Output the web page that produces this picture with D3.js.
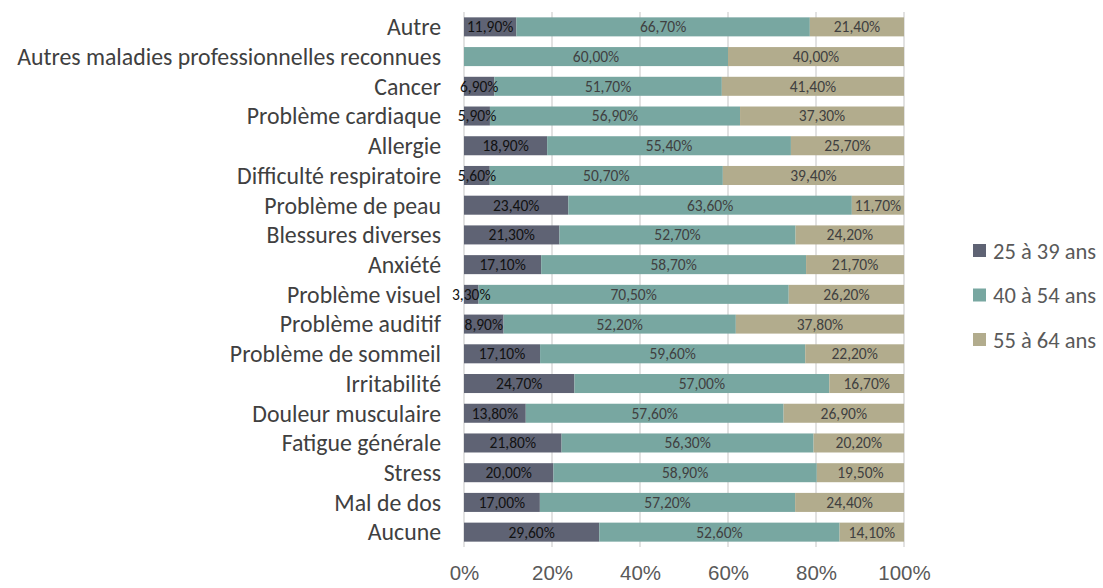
<!DOCTYPE html>
<html lang="fr">
<head>
<meta charset="utf-8">
<title>Problèmes de santé par tranche d'âge</title>
<script src="https://d3js.org/d3.v7.min.js"></script>
<style>
  body { margin: 0; background: #fff; }
  svg { font-family: Carlito, Calibri, "Open Sans", sans-serif; }
</style>
</head>
<body>
<svg width="1103" height="588"></svg>
<script>
const categories = ["Autre", "Autres maladies professionnelles reconnues", "Cancer", "Problème cardiaque",
  "Allergie", "Difficulté respiratoire", "Problème de peau", "Blessures diverses", "Anxiété",
  "Problème visuel", "Problème auditif", "Problème de sommeil", "Irritabilité", "Douleur musculaire",
  "Fatigue générale", "Stress", "Mal de dos", "Aucune"];
const age25_39 = [11.9, 0, 6.9, 5.9, 18.9, 5.6, 23.4, 21.3, 17.1, 3.3, 8.9, 17.1, 24.7, 13.8, 21.8, 20.0, 17.0, 29.6];
const age40_54 = [66.7, 60.0, 51.7, 56.9, 55.4, 50.7, 63.6, 52.7, 58.7, 70.5, 52.2, 59.6, 57.0, 57.6, 56.3, 58.9, 57.2, 52.6];
const age55_64 = [21.4, 40.0, 41.4, 37.3, 25.7, 39.4, 11.7, 24.2, 21.7, 26.2, 37.8, 22.2, 16.7, 26.9, 20.2, 19.5, 24.4, 14.1];
const seriesNames = ["25 à 39 ans", "40 à 54 ans", "55 à 64 ans"];
const xTicks = [0, 0.2, 0.4, 0.6, 0.8, 1];

const colors = ["#5f6374", "#78a7a1", "#b2ac8d"];
const labelColors = ["#111", "#404040", "#404040"];

const rows = categories.map((c, i) => ({ cat: c, s0: age25_39[i], s1: age40_54[i], s2: age55_64[i] }));
const stack = d3.stack().keys(["s0", "s1", "s2"]).offset(d3.stackOffsetExpand);
const series = stack(rows);

const svg = d3.select("svg");
const margin = { left: 464, right: 199, top: 12, bottom: 41 };
const width = 1103 - margin.left - margin.right;
const height = 588 - margin.top - margin.bottom;
const g = svg.append("g").attr("transform", `translate(${margin.left},${margin.top})`);

const x = d3.scaleLinear().domain([0, 1]).range([0, width]);
const y = d3.scaleBand().domain(categories).range([0, height]).paddingInner(0.36).paddingOuter(0.18);

const loc = d3.formatLocale({ decimal: ",", thousands: " ", grouping: [3], currency: ["", "€"] });
const fmt = loc.format(".2f");

// gridlines
g.append("g").selectAll("line").data(xTicks).join("line")
  .attr("x1", d => x(d)).attr("x2", d => x(d))
  .attr("y1", 0).attr("y2", height)
  .attr("stroke", "#d9d9d9").attr("stroke-width", 1.5);

// bars
const layer = g.selectAll(".layer").data(series).join("g").attr("fill", (d, i) => colors[i]);
layer.selectAll("rect").data(d => d).join("rect")
  .attr("x", d => x(d[0]))
  .attr("width", d => x(d[1]) - x(d[0]))
  .attr("y", d => y(d.data.cat))
  .attr("height", y.bandwidth());

// data labels
series.forEach((s, si) => {
  g.append("g").selectAll("text").data(s.filter(d => d.data["s" + si] > 0)).join("text")
    .attr("x", d => x((d[0] + d[1]) / 2))
    .attr("y", d => y(d.data.cat) + y.bandwidth() / 2)
    .attr("dy", "0.35em")
    .attr("text-anchor", "middle")
    .attr("font-size", 15.5)
    .attr("fill", labelColors[si])
    .text(d => fmt(d.data["s" + si]) + "%");
});

// category axis
g.append("g").selectAll("text").data(categories).join("text")
  .attr("x", -23)
  .attr("y", d => y(d) + y.bandwidth() / 2)
  .attr("dy", "0.35em")
  .attr("text-anchor", "end")
  .attr("font-size", 23.8)
  .attr("fill", "#404040")
  .text(d => d);

// x axis
g.append("g").attr("transform", `translate(0,${height})`)
  .call(d3.axisBottom(x).tickValues(xTicks).tickFormat(d3.format(".0%")).tickSize(0).tickPadding(18))
  .call(a => a.select(".domain").remove())
  .call(a => a.selectAll("text").attr("font-size", 20.5).attr("fill", "#595959").attr("font-family", null));

// legend
const legend = svg.append("g").attr("transform", "translate(973,251)");
const item = legend.selectAll("g").data(seriesNames).join("g")
  .attr("transform", (d, i) => `translate(0,${i * 44.5})`);
item.append("rect").attr("x", 0).attr("y", -7).attr("width", 13).attr("height", 13)
  .attr("fill", (d, i) => colors[i]);
item.append("text").attr("x", 20).attr("dy", "0.35em").attr("font-size", 22.5)
  .attr("fill", "#595959").text(d => d);
</script>
</body>
</html>
